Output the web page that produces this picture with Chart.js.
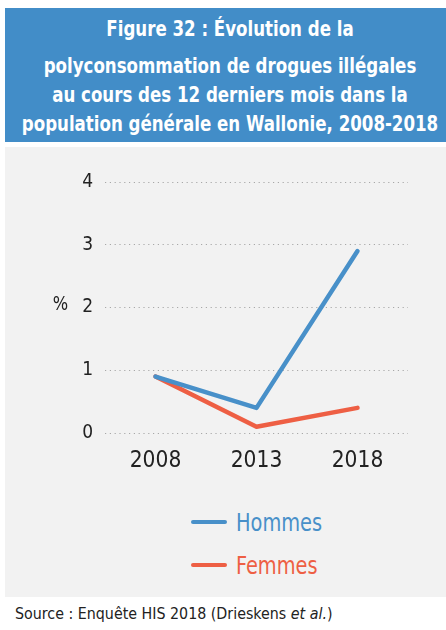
<!DOCTYPE html>
<html><head><meta charset="utf-8">
<script src="https://cdn.jsdelivr.net/npm/chart.js@4/dist/chart.umd.min.js"></script>
<style>
html,body{margin:0;padding:0;background:#fff;width:446px;height:630px;overflow:hidden;font-family:"DejaVu Sans Condensed","DejaVu Sans",sans-serif;}
#title{position:absolute;left:5px;top:8px;width:441px;height:134px;background:#428dc8;color:#fff;font-weight:bold;font-size:21.5px;line-height:29px;text-align:center;overflow:hidden;}
#title .in{position:absolute;left:-75px;top:6px;width:600px;white-space:nowrap;text-align:center;transform:scaleX(0.86);transform-origin:center top;}
#title .l1{margin-bottom:7.5px;}
#panel{position:absolute;left:5px;top:147px;width:441px;height:450px;background:#f2f2f2;}
#cwrap{position:absolute;left:0;top:0;width:441px;height:340px;}
#pct{position:absolute;left:47px;top:144px;font-size:20px;color:#222;transform:scaleX(0.9);}
#legend{position:absolute;left:0;top:360px;width:441px;}
.li{position:absolute;left:186px;height:30px;display:flex;align-items:center;font-size:25px;white-space:nowrap;}
.li span.sw{display:inline-block;width:36px;height:4.5px;border-radius:3px;margin-right:9px;}
.li span.tx{display:inline-block;transform:scaleX(0.86);transform-origin:left center;}
#source{position:absolute;left:15px;top:604px;font-size:16.5px;color:#222;white-space:nowrap;transform:scaleX(0.96);transform-origin:left top;}
</style></head>
<body>
<div id="title"><div class="in"><div class="l1">Figure 32 : Évolution de la</div><div>polyconsommation de drogues illégales<br>au cours des 12 derniers mois dans la<br>population générale en Wallonie, 2008-2018</div></div></div>
<div id="panel">
  <div id="cwrap"><canvas id="c" width="441" height="340"></canvas></div>
  <div id="pct">%</div>
  <div id="legend"></div>
</div>
<div id="source">Source : Enquête HIS 2018 (Drieskens <i>et al.</i>)</div>
<script>
const years = ["2008", "2013", "2018"];
const hommes = [0.9, 0.4, 2.9];
const femmes = [0.9, 0.1, 0.4];
const yTicks = [0, 1, 2, 3, 4];
const seriesNames = ["Hommes", "Femmes"];
const seriesColors = ["#4890c9", "#ee5f44"];

const FONT = '"DejaVu Sans Condensed","DejaVu Sans",sans-serif';

const chart = new Chart(document.getElementById('c'), {
  type: 'line',
  data: {
    labels: years,
    datasets: [
      {label: seriesNames[0], data: hommes, borderColor: seriesColors[0], backgroundColor: seriesColors[0], borderWidth: 4.5, pointRadius: 0, tension: 0, borderCapStyle: 'round', borderJoinStyle: 'round'},
      {label: seriesNames[1], data: femmes, borderColor: seriesColors[1], backgroundColor: seriesColors[1], borderWidth: 4.5, pointRadius: 0, tension: 0, borderCapStyle: 'round', borderJoinStyle: 'round'}
    ]
  },
  options: {
    responsive: false,
    animation: false,
    layout: {padding: {left: 0, right: 38, top: 35, bottom: 0}},
    plugins: {legend: {display: false}, tooltip: {enabled: false}},
    scales: {
      x: {
        offset: true,
        grid: {display: false, drawTicks: false},
        border: {display: false},
        ticks: {color: '#222', font: {family: FONT, size: 22.5}, padding: 15},
        afterFit: s => { s.height = 54; }
      },
      y: {
        min: 0, max: 4,
        afterBuildTicks: s => { s.ticks = yTicks.map(v => ({value: v})); },
        grid: {color: '#a8a8a8', lineWidth: 1, drawTicks: false},
        border: {display: false, dash: [1.2, 3.6]},
        ticks: {color: '#222', font: {family: FONT, size: 19}, padding: 12},
        afterFit: s => { s.width = 100; }
      }
    }
  }
});

const leg = document.getElementById('legend');
chart.data.datasets.forEach((ds, i) => {
  const d = document.createElement('div');
  d.className = 'li';
  d.style.top = (i * 43) + 'px';
  d.style.color = ds.borderColor;
  d.innerHTML = '<span class="sw" style="background:' + ds.borderColor + '"></span><span class="tx">' + ds.label + '</span>';
  leg.appendChild(d);
});
</script>
</body></html>
